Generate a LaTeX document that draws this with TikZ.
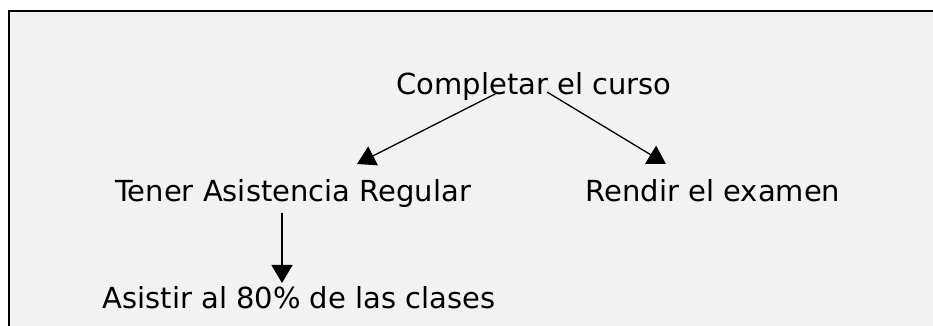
\documentclass[tikz,border=0pt]{standalone}
\usepackage{fontspec}
\setmainfont{DejaVu Sans}
\usepackage{xcolor}
\usepackage{tikz}
\usetikzlibrary{positioning, arrows.meta}
\definecolor{fondo}{HTML}{F2F2F2}

\begin{document}
\begin{tikzpicture}
            [
            x=1pt, y=1pt,
            texto/.style={inner sep=0pt, anchor=base, font=\fontsize{29pt}{35pt}\selectfont},
            flecha/.style={-{Triangle[length=18pt,width=21pt]}, line width=1.3pt}
            ]
        \useasboundingbox (0,0) rectangle (933,326);
        \fill[fondo] (9,0) rectangle (933,315);
        \draw[line width=2pt] (9,0) -- (9,315) -- (933,315);
        \node[texto] (curso) at (534,231) {Completar el curso};
        \node[texto] (asistencia) at (293,124) {Tener Asistencia Regular};
        \node[texto] (examen) at (713,124) {Rendir el examen};
        \node[texto] (clases) at (299,17) {Asistir al 80\% de las clases};
        \draw[flecha] ([xshift=-37pt,yshift=2pt]curso.base) -- ([xshift=64pt,yshift=38pt]asistencia.base);
        \draw[flecha] ([xshift=13pt,yshift=3pt]curso.base) -- ([xshift=-47pt,yshift=38pt]examen.base);
        \draw[flecha] ([xshift=-11pt,yshift=-11pt]asistencia.base) -- ([xshift=-17pt,yshift=26pt]clases.base);
        \end{tikzpicture}
\end{document}
